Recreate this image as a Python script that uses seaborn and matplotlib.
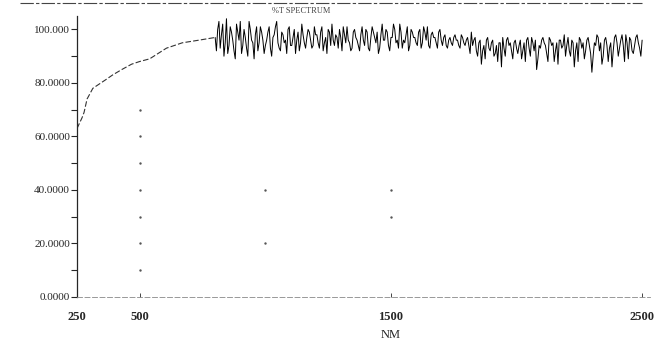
import numpy as np
import pandas as pd
import seaborn as sns

from matplotlib import pyplot as plt
from matplotlib.lines import Line2D

# rising edge of the transmission curve (nm, %T)
RISE_NM = [250, 270, 278, 290, 313, 361, 392, 428, 467, 499, 539, 606, 669, 736, 800]
RISE_T = [63, 67, 69, 74, 78, 81, 83, 85, 87, 88, 89, 93, 95, 96, 97]

# noisy plateau, read at 800, 810, ... 2500 nm
NOISE_T = [
    97, 100, 93, 102, 95, 91, 101, 96, 89, 99, 103, 94, 97, 90, 100, 95, 98, 92, 101, 96, 94,
    99, 93, 97, 101, 95, 92, 98, 96, 100, 94, 97, 91, 99, 95, 98, 93, 100, 96, 94, 98,
    95, 99, 92, 97, 100, 94, 96, 98, 93, 97, 101, 95, 96, 92, 99, 97, 94, 98, 96, 100,
    93, 97, 99, 95, 91, 98, 96, 100, 94, 97, 102, 95, 93, 99, 96, 98, 92, 100, 97, 95,
    99, 93, 101, 96, 94, 98, 97, 95, 99, 96, 97, 94, 96, 95, 97, 96, 94, 98, 95, 96,
    94, 99, 96, 92, 95, 87, 94, 96, 93, 95, 90, 94, 95, 86, 93, 96, 94, 92, 95, 93,
    94, 89, 95, 96, 93, 97, 92, 85, 94, 96, 95, 91, 97, 94, 88, 95, 96, 93, 98, 94,
    92, 96, 86, 95, 97, 93, 89, 96, 94, 84, 95, 98, 92, 87, 96, 94, 93, 86, 97, 95,
    93, 98, 88, 95, 97, 92, 94, 98, 93, 96,
]
NOISE_NM = list(range(800, 800 + 10 * len(NOISE_T), 10))

# in-between readings at 805, 815, ... 2495 nm
MID_T = [
    92, 103, 98, 90, 104, 94, 99, 92, 102, 96, 91, 100, 93, 103, 96, 89, 101, 95, 99, 91,
    96, 101, 90, 98, 103, 93, 99, 95, 91, 101, 94, 100, 96, 92, 102, 95, 97, 99, 93, 101,
    98, 93, 101, 95, 91, 99, 102, 94, 97, 100, 92, 98, 101, 95, 93, 100, 96, 92, 101, 94,
    99, 92, 101, 97, 99, 93, 102, 96, 99, 92, 97, 100, 96, 102, 93, 95, 101, 94, 99, 97,
    94, 100, 95, 99, 101, 93, 99, 97, 93, 100, 94, 98, 93, 97, 94, 98, 96, 93, 97, 94,
    97, 91, 94, 97, 90, 96, 92, 89, 97, 92, 96, 91, 88, 95, 97, 90, 97, 95, 89, 96,
    91, 96, 92, 88, 97, 90, 95, 96, 89, 93, 97, 94, 88, 96, 95, 92, 87, 96, 94, 90,
    97, 90, 95, 92, 88, 96, 95, 92, 97, 91, 90, 94, 97, 95, 90, 97, 88, 95, 92, 98,
    90, 96, 94, 98, 89, 96, 91, 97, 95, 90,
]
MID_NM = list(range(805, 805 + 10 * len(MID_T), 10))

# faint grid dots left on the scan
DOT_NM = [500, 500, 500, 500, 500, 500, 500, 1000, 1000, 1500, 1500]
DOT_T = [70, 60, 50, 40, 30, 20, 10, 40, 20, 40, 30]

X_TICKS = [250, 500, 1500, 2500]
Y_TICKS = [0, 20, 40, 60, 80, 100]
Y_LABELS = ['0.0000', '20.0000', '40.0000', '60.0000', '80.0000', '100.000']

X_MAX = 2532


def main():
    sns.set_style('white')
    plt.rcParams['font.family'] = ['Liberation Serif', 'DejaVu Serif']

    fig = plt.figure(figsize=(6.55, 3.49), dpi=100)
    ax = fig.add_axes([0.1176, 0.149, 0.875, 0.805])

    rise = pd.DataFrame({'NM': RISE_NM, 'T': RISE_T})
    noise = pd.DataFrame({'NM': NOISE_NM + MID_NM, 'T': NOISE_T + MID_T})
    dots = pd.DataFrame({'NM': DOT_NM, 'T': DOT_T})

    sns.lineplot(x='NM', y='T', data=rise, color='#333333', lw=0.8,
                 linestyle=(0, (5, 2)), ax=ax)
    sns.lineplot(x='NM', y='T', data=noise, color='black', lw=0.7, ax=ax)
    sns.scatterplot(x='NM', y='T', data=dots, color='#555555', s=3,
                    linewidth=0, ax=ax)

    ax.set_xlim(250, X_MAX)
    ax.set_ylim(0, 105)
    ax.set_xticks(X_TICKS)
    ax.set_xticklabels([str(v) for v in X_TICKS], fontsize=9, fontweight='bold')
    ax.set_yticks(Y_TICKS)
    ax.set_yticklabels(Y_LABELS, fontsize=8)
    ax.set_yticks([10, 30, 50, 70, 90], minor=True)
    ax.tick_params(axis='y', which='both', direction='out', length=4, width=0.8,
                   left=True, pad=1)
    ax.tick_params(axis='x', direction='in', length=3, width=0.6, bottom=True, pad=10)

    ax.set_xlabel('NM', fontsize=9)
    ax.xaxis.set_label_coords((1500 - 250) / (X_MAX - 250), -0.115)
    ax.set_ylabel('')

    for side in ['top', 'right']:
        ax.spines[side].set_visible(False)
    ax.spines['left'].set_linewidth(0.9)
    ax.spines['bottom'].set_linestyle((0, (6, 3)))
    ax.spines['bottom'].set_color('#888888')
    ax.spines['bottom'].set_linewidth(0.6)

    # scan header rule and faint title
    fig.add_artist(Line2D([0.03, 0.98], [0.99, 0.99], color='#444444', lw=0.8,
                          linestyle=(0, (12, 2, 3, 2))))
    fig.text(0.46, 0.962, '%T SPECTRUM', fontsize=6, color='#444444', ha='center')

    fig.savefig('out.png', dpi=100)


if __name__ == '__main__':
    main()
